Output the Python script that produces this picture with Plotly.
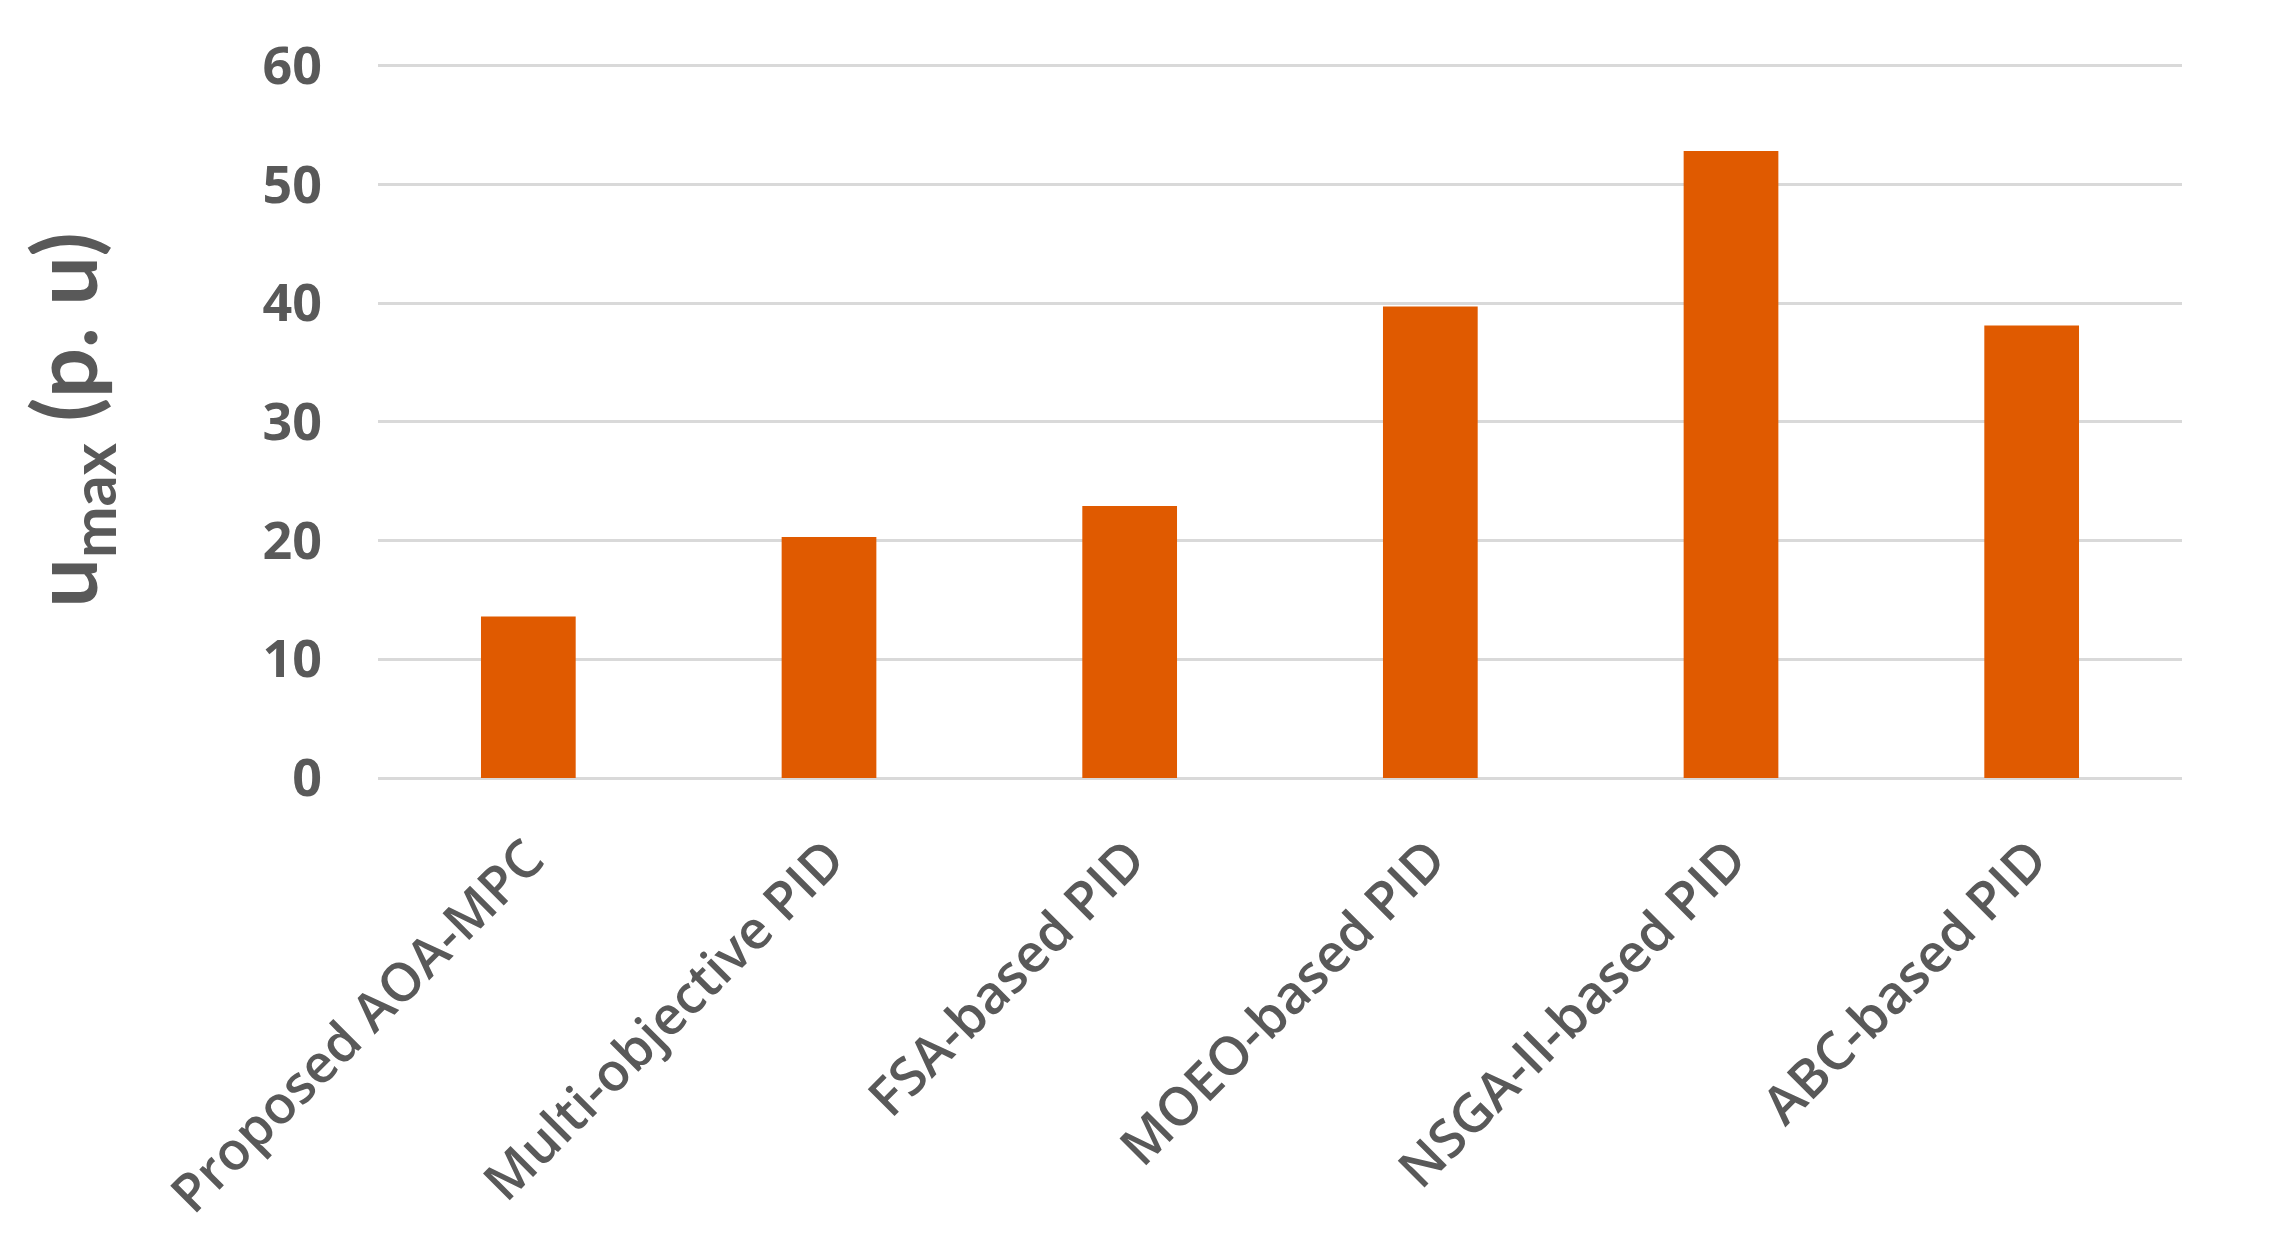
import plotly.graph_objects as go

# bar chart of u_max per controller
methods = ['Proposed AOA-MPC', 'Multi-objective PID', 'FSA-based PID',
           'MOEO-based PID', 'NSGA-II-based PID', 'ABC-based PID']
u_max = [13.6, 20.3, 22.9, 39.7, 52.8, 38.1]
y_ticks = [0, 10, 20, 30, 40, 50, 60]

fig = go.Figure(go.Bar(x=methods, y=u_max, marker=dict(color='#E05A00', line=dict(width=0))))

fig.update_layout(
    width=2274, height=1236,
    margin=dict(l=370, r=100, t=54, b=466),
    paper_bgcolor='white', plot_bgcolor='white',
    bargap=0.685, showlegend=False,
    font=dict(family='Open Sans', color='#595959'),
)
fig.update_xaxes(tickangle=-45, tickfont=dict(size=53, color='#595959', weight=600),
                 showgrid=False, showline=False, ticks='', ticklabelstandoff=38)
fig.update_yaxes(range=[0, 60.3], tickvals=y_ticks,
                 tickfont=dict(size=52, color='#595959', weight='bold'),
                 gridcolor='#D9D9D9', gridwidth=3, zeroline=True, zerolinecolor='#D9D9D9',
                 zerolinewidth=3, ticks='', ticklabelstandoff=55,
                 title=dict(text='<b>u<sub>max</sub> (p. u)</b>',
                            font=dict(family='Lato', size=88, color='#595959'),
                            standoff=135))

fig.write_html("out.html")
